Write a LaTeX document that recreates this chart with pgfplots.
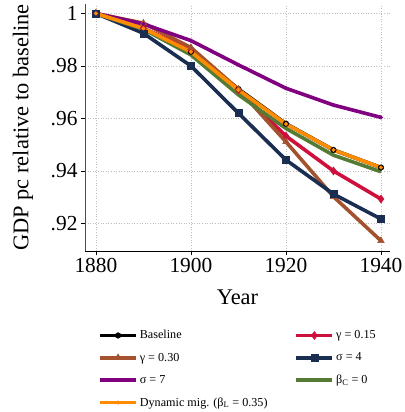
\documentclass[border=0pt]{standalone}
\usepackage{fontspec}
\setmainfont{Liberation Serif}
\usepackage{pgfplots}
\pgfplotsset{compat=1.18}
\definecolor{cblack}{RGB}{0,0,0}
\definecolor{cred}{RGB}{205,16,60}
\definecolor{cbrown}{RGB}{163,82,45}
\definecolor{cnavy}{RGB}{26,46,82}
\definecolor{cpurple}{RGB}{128,0,128}
\definecolor{cgreen}{RGB}{85,122,52}
\definecolor{corange}{RGB}{255,140,0}
\begin{document}
\begin{tikzpicture}
\begin{axis}[
  name=ax, at={(0,0)}, anchor=south west,
  scale only axis, width=305bp, height=247bp,
  xmin=1877.7, xmax=1941.9, ymin=0.9095, ymax=1.0036,
  axis x line=bottom, axis y line=left,
  axis line style={-, line width=0.8bp},
  x axis line style={black}, y axis line style={black!70},
  xtick={1880,1900,1920,1940}, xticklabels={1880,1900,1920,1940},
  ytick={0.92,0.94,0.96,0.98,1}, yticklabels={.92,.94,.96,.98,1},
  tick align=outside, major tick length=4bp,
  tick style={black, line width=0.8bp},
  grid=major,
  grid style={gray!50, line width=0.7bp, dash pattern=on 0.8bp off 1.8bp},
  ticklabel style={font=\fontsize{21.5}{24}\selectfont},
  xlabel={Year}, ylabel={GDP pc relative to baseline},
  label style={font=\fontsize{22.5}{26}\selectfont},
  xlabel style={at={(axis description cs:0.5,-0.1862)}, anchor=center},
  ylabel style={at={(axis description cs:-0.2033,0.5)}, anchor=center},
  clip=false,
  legend columns=2,
  legend cell align=left,
  legend style={draw=none, fill=none,
    at={(axis description cs:0.033,-0.305)}, anchor=north west,
    font=\fontsize{12.2}{14}\selectfont,
    /tikz/every even column/.append style={column sep=25bp},
    row sep=8.5bp},
  legend image code/.code={\draw[mark repeat=2,mark phase=2,#1] plot coordinates {(0bp,0bp) (18bp,0bp) (36bp,0bp)};},
  every axis plot/.append style={line width=3.6bp, mark options={solid, line width=0.5bp}},
]
\addplot[color=cblack, mark=*, mark size=2.8bp] coordinates {
(1880,1.0) (1890,0.9943) (1900,0.9854) (1910,0.9712) (1920,0.9580) (1930,0.9480) (1940,0.9413)};
\addlegendentry{Baseline}
\addplot[color=cred, mark=diamond*, mark size=4bp] coordinates {
(1880,1.0) (1890,0.9943) (1900,0.9861) (1910,0.9709) (1920,0.9533) (1930,0.9400) (1940,0.9293)};
\addlegendentry{γ = 0.15}
\addplot[color=cbrown, mark=triangle*, mark size=3.8bp] coordinates {
(1880,1.0) (1890,0.9963) (1900,0.9870) (1910,0.9711) (1920,0.9511) (1930,0.9302) (1940,0.9134)};
\addlegendentry{γ = 0.30}
\addplot[color=cnavy, mark=square*, mark size=3.5bp] coordinates {
(1880,1.0) (1890,0.99245) (1900,0.9800) (1910,0.9620) (1920,0.9442) (1930,0.9312) (1940,0.9217)};
\addlegendentry{σ = 4}
\addplot[color=cpurple, mark=*, mark size=1.8bp] coordinates {
(1880,1.0) (1890,0.9960) (1900,0.98965) (1910,0.9804) (1920,0.9715) (1930,0.9651) (1940,0.9604)};
\addlegendentry{σ = 7}
\addplot[color=cgreen, mark=none] coordinates {
(1880,1.0) (1890,0.9940) (1900,0.9842) (1910,0.9690) (1920,0.9562) (1930,0.9460) (1940,0.9397)};
\addlegendentry{β\textsubscript{C} = 0}
\addplot[color=corange, mark=*, mark size=1.8bp] coordinates {
(1880,1.0) (1890,0.9943) (1900,0.9854) (1910,0.9709) (1920,0.9579) (1930,0.9480) (1940,0.9413)};
\addlegendentry{Dynamic mig. (β\textsubscript{L} = 0.35)}
\end{axis}
\pgfresetboundingbox
\path (-85bp,-161bp) rectangle (320bp,251bp);
\end{tikzpicture}
\end{document}
